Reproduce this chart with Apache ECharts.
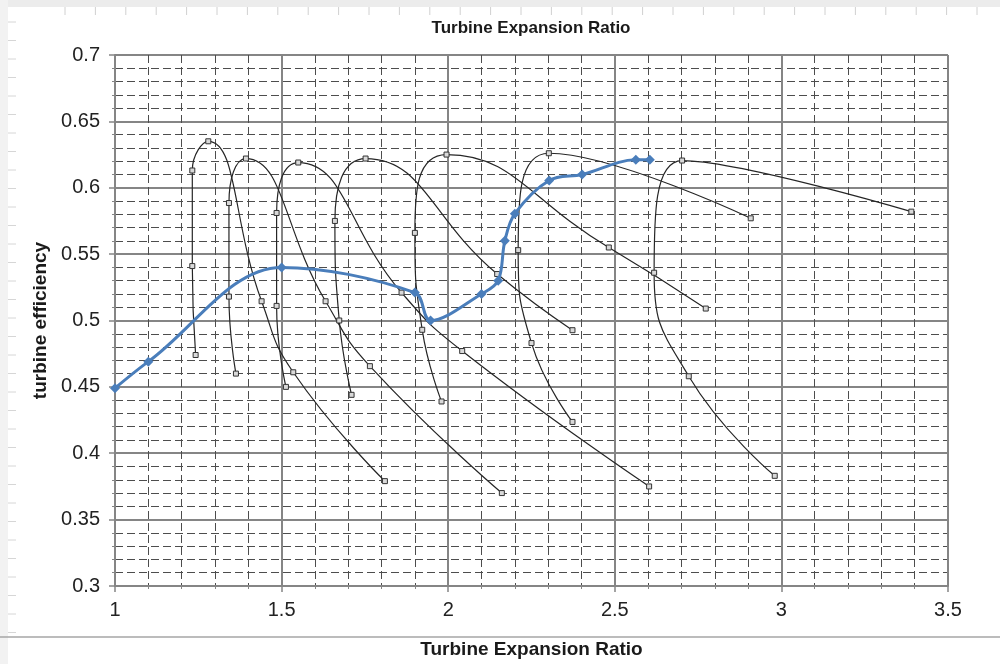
<!DOCTYPE html>
<html>
<head>
<meta charset="utf-8">
<title>Turbine Expansion Ratio</title>
<script src="https://cdn.jsdelivr.net/npm/echarts@6/dist/echarts.min.js"></script>
<style>
  html, body { margin: 0; padding: 0; background: #fff; }
  #main { width: 1000px; height: 664px; }
</style>
</head>
<body>
<div id="main"></div>
<script>
// tick labels
var xTickLabels = ['1', '1.5', '2', '2.5', '3', '3.5'];
var yTickLabels = ['0.3', '0.35', '0.4', '0.45', '0.5', '0.55', '0.6', '0.65', '0.7'];

// speed lines (expansion ratio, efficiency)
var lineA = [[1.242, 0.474], [1.232, 0.541], [1.232, 0.613], [1.28, 0.635], [1.44, 0.5145], [1.535, 0.461], [1.81, 0.379]];
var lineB = [[1.363, 0.460], [1.342, 0.518], [1.342, 0.5885], [1.393, 0.622], [1.632, 0.5145], [1.765, 0.4656], [2.161, 0.370]];
var lineC = [[1.513, 0.450], [1.485, 0.511], [1.485, 0.581], [1.55, 0.619], [1.86, 0.521], [2.042, 0.477], [2.603, 0.375]];
var lineD = [[1.71, 0.444], [1.673, 0.500], [1.66, 0.575], [1.752, 0.622], [2.147, 0.535], [2.373, 0.4927]];
var lineE = [[1.98, 0.439], [1.922, 0.493], [1.90, 0.566], [1.995, 0.625], [2.482, 0.555], [2.773, 0.509]];
var lineF = [[2.373, 0.4236], [2.25, 0.483], [2.21, 0.553], [2.302, 0.626], [2.908, 0.577]];
var lineG = [[2.98, 0.383], [2.722, 0.458], [2.618, 0.536], [2.702, 0.6205], [3.39, 0.582]];

// blue operating line
var opLine = [[1.0, 0.449], [1.1, 0.469], [1.5, 0.540], [1.9, 0.521], [1.947, 0.500], [2.1, 0.520],
  [2.15, 0.530], [2.17, 0.560], [2.2, 0.5805], [2.303, 0.6055], [2.402, 0.610], [2.563, 0.621], [2.605, 0.621]];

var speedLines = [lineA, lineB, lineC, lineD, lineE, lineF, lineG];

var majorLine = { color: '#858585', width: 2 };
var minorLine = { color: '#4d4d4d', width: 1, type: [8, 4] };

// screenshot frame bits (ruler ticks top and left)
var frame = [
  { type: 'rect', shape: { x: 0, y: 0, width: 1000, height: 7 }, style: { fill: '#ececec' }, silent: true },
  { type: 'rect', shape: { x: 0, y: 0, width: 8, height: 664 }, style: { fill: '#f2f2f2' }, silent: true },
  { type: 'line', shape: { x1: 0, y1: 637, x2: 1000, y2: 637 }, style: { stroke: '#a6a6a6', lineWidth: 1.5 }, silent: true }
];
for (var tx = 65; tx < 1000; tx += 30.4) {
  frame.push({ type: 'line', shape: { x1: tx, y1: 7, x2: tx, y2: 15 }, style: { stroke: '#d0d0d0', lineWidth: 1 }, silent: true });
}
for (var ty = 22; ty < 637; ty += 18.5) {
  frame.push({ type: 'line', shape: { x1: 8, y1: ty, x2: 16, y2: ty }, style: { stroke: '#d6d6d6', lineWidth: 1 }, silent: true });
}

var series = speedLines.map(function (d) {
  return {
    type: 'line',
    data: d,
    smooth: 0.5,
    symbol: 'rect',
    symbolSize: 5,
    showAllSymbol: true,
    lineStyle: { color: '#262626', width: 1.2 },
    itemStyle: { color: '#d9d9d9', borderColor: '#333', borderWidth: 1 },
    z: 3
  };
});
series.push({
  type: 'line',
  data: opLine,
  smooth: 0.35,
  symbol: 'diamond',
  symbolSize: 10,
  showAllSymbol: true,
  lineStyle: { color: '#4a7ebb', width: 3 },
  itemStyle: { color: '#4a7ebb' },
  z: 4
});

var option = {
  animation: false,
  backgroundColor: '#fff',
  textStyle: { fontFamily: 'Liberation Sans, Arial, sans-serif' },
  title: {
    text: 'Turbine Expansion Ratio',
    left: 526,
    textAlign: 'center',
    top: 15,
    textStyle: { fontSize: 17, fontWeight: 'bold', color: '#1a1a1a', fontFamily: 'Liberation Sans' }
  },
  graphic: frame,
  grid: { left: 115, right: 52, top: 55, bottom: 77 },
  xAxis: {
    type: 'value',
    min: 1,
    max: 3.5,
    interval: 0.5,
    name: 'Turbine Expansion Ratio',
    nameLocation: 'middle',
    nameGap: 54,
    nameTextStyle: { fontSize: 19, fontWeight: 'bold', color: '#1a1a1a' },
    axisLine: { show: true, lineStyle: majorLine },
    axisTick: { show: true, length: 6, lineStyle: { color: '#858585', width: 1.5 } },
    minorTick: { show: true, splitNumber: 5, length: 3, lineStyle: { color: '#858585' } },
    splitLine: { show: true, lineStyle: majorLine },
    minorSplitLine: { show: true, lineStyle: minorLine },
    axisLabel: {
      fontSize: 20, color: '#222', margin: 14,
      formatter: function (v, i) { return xTickLabels[i]; }
    }
  },
  yAxis: {
    type: 'value',
    min: 0.3,
    max: 0.7,
    interval: 0.05,
    name: 'turbine efficiency',
    nameLocation: 'middle',
    nameRotate: 90,
    nameGap: 64,
    nameTextStyle: { fontSize: 19, fontWeight: 'bold', color: '#1a1a1a' },
    axisLine: { show: true, lineStyle: majorLine },
    axisTick: { show: true, length: 6, lineStyle: { color: '#858585', width: 1.5 } },
    minorTick: { show: true, splitNumber: 5, length: 3, lineStyle: { color: '#858585' } },
    splitLine: { show: true, lineStyle: majorLine },
    minorSplitLine: { show: true, lineStyle: minorLine },
    axisLabel: {
      fontSize: 20, color: '#222', margin: 15,
      formatter: function (v, i) { return yTickLabels[i]; }
    }
  },
  series: series
};

var myChart = echarts.init(document.getElementById('main'), null, { renderer: 'canvas' });
myChart.setOption(option);
</script>
</body>
</html>
